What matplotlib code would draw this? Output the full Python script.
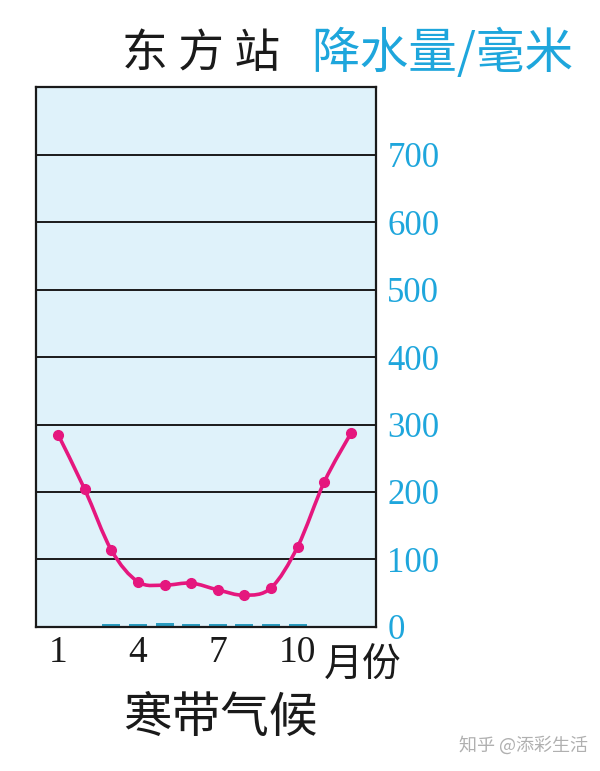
import numpy as np
import matplotlib
matplotlib.use("Agg")
import matplotlib.pyplot as plt
from matplotlib.path import Path
from matplotlib.patches import PathPatch

# data
months = np.arange(1, 13)
curve = [285, 204, 114, 67, 62, 65, 55, 47, 58, 119, 215, 287]
precip = [0, 0, 4, 4, 6, 4, 4, 4, 4, 4, 0, 0]
y_ticks = [0, 100, 200, 300, 400, 500, 600, 700]
x_ticks = [1, 4, 7, 10]
x_labels = ["1", "4", "7", "10"]

CJK = ["Noto Sans CJK SC", "DejaVu Sans"]
NUM = ["Liberation Serif", "DejaVu Serif"]
CYAN = "#1ea6dc"
MAGENTA = "#e5177e"
BG = "#dff2fa"

fig = plt.figure(figsize=(6, 7.71), dpi=100)
ax = fig.add_axes([0.06, 0.1868, 0.567, 0.7003])
ax.set_facecolor(BG)
ax.set_xlim(0.17, 12.95)
ax.set_ylim(0, 800)

for v in y_ticks[1:]:
    ax.axhline(v, color="#1a1a1a", lw=1.4, zorder=1)

ax.bar(months, precip, width=0.68, color="#2a9cc0", zorder=2)

# smooth curve through the points (catmull-rom -> bezier)
pts = np.column_stack([months, curve]).astype(float)
verts = [pts[0]]
codes = [Path.MOVETO]
for i in range(len(pts) - 1):
    p0 = pts[i - 1] if i > 0 else pts[i]
    p1, p2 = pts[i], pts[i + 1]
    p3 = pts[i + 2] if i + 2 < len(pts) else pts[i + 1]
    verts += [p1 + (p2 - p0) / 6, p2 - (p3 - p1) / 6, p2]
    codes += [Path.CURVE4] * 3
ax.add_patch(PathPatch(Path(verts, codes), fill=False, edgecolor=MAGENTA,
                       lw=2.6, transform=ax.transData, zorder=3))
ax.plot(months, curve, "o", color=MAGENTA, ms=7, zorder=4)

for s in ax.spines.values():
    s.set_linewidth(1.6)
    s.set_color("#1a1a1a")

ax.yaxis.tick_right()
ax.set_yticks(y_ticks)
ax.set_yticklabels([str(v) for v in y_ticks], family=NUM, fontsize=25, color=CYAN)
ax.set_xticks(x_ticks)
ax.set_xticklabels(x_labels, family=NUM, fontsize=27, color="#1a1a1a")
ax.tick_params(length=0, pad=6)
ax.tick_params(axis="y", pad=8)

fig.text(0.203, 0.93, "东 方 站", family=CJK, fontsize=33, color="#1a1a1a",
         ha="left", va="center")
fig.text(0.518, 0.93, "降水量/毫米", family=CJK, fontsize=35, color=CYAN,
         ha="left", va="center")
fig.text(0.54, 0.137, "月份", family=CJK, fontsize=28, color="#1a1a1a",
         ha="left", va="center")
fig.text(0.205, 0.068, "寒带气候", family=CJK, fontsize=35, color="#1a1a1a",
         ha="left", va="center")
fig.text(0.765, 0.033, "知乎 @添彩生活", family=CJK, fontsize=13, color="#b0b0b0",
         ha="left", va="center")

fig.savefig("out.png", dpi=100, facecolor="white")
